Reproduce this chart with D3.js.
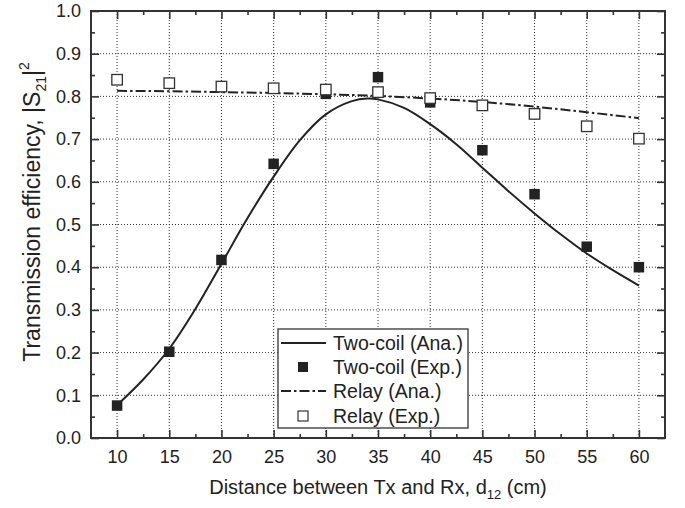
<!DOCTYPE html>
<html>
<head>
<title></title>
<style>
body{margin:0;background:#fff;}
svg text{font-family:Arial, "Liberation Sans", sans-serif;fill:#222;}
.grid line{stroke:#333;stroke-width:1;stroke-dasharray:1,2;}
.axis path{display:none;}
.axis line{stroke:#333;stroke-width:1.6;}
.frame{fill:none;stroke:#333;stroke-width:2;}
</style>
</head>
<body>
<svg width="685" height="508"></svg>
<script src="https://d3js.org/d3.v7.min.js"></script>
<script>
// measured points (cm)
var distance   = [10, 15, 20, 25, 30, 35, 40, 45, 50, 55, 60];
var twoCoilExp = [0.076, 0.202, 0.417, 0.642, 0.806, 0.845, 0.786, 0.674, 0.571, 0.448, 0.400];
var relayExp   = [0.839, 0.831, 0.823, 0.819, 0.816, 0.810, 0.796, 0.779, 0.759, 0.730, 0.701];
var relayAna   = [0.813, 0.812, 0.810, 0.808, 0.805, 0.801, 0.795, 0.787, 0.776, 0.763, 0.749];

// analytical two-coil curve
var twoCoilAnaX = [10, 12.5, 15, 17.5, 20, 22.5, 25, 27.5, 30, 32.5, 34, 35, 37.5, 40, 42.5, 45, 47.5, 50, 52.5, 55, 57.5, 60];
var twoCoilAnaY = [0.077, 0.137, 0.209, 0.302, 0.408, 0.515, 0.612, 0.697, 0.758, 0.789, 0.795, 0.793, 0.773, 0.735, 0.688, 0.633, 0.578, 0.526, 0.477, 0.432, 0.393, 0.357];

var xMajor = [10, 15, 20, 25, 30, 35, 40, 45, 50, 55, 60];
var xMinor = [12.5, 17.5, 22.5, 27.5, 32.5, 37.5, 42.5, 47.5, 52.5, 57.5];
var yMajor = [0, 0.1, 0.2, 0.3, 0.4, 0.5, 0.6, 0.7, 0.8, 0.9, 1.0];
var yMinor = [0.05, 0.15, 0.25, 0.35, 0.45, 0.55, 0.65, 0.75, 0.85, 0.95];

var legendNames = ["Two-coil (Ana.)", "Two-coil (Exp.)", "Relay (Ana.)", "Relay (Exp.)"];

var svg = d3.select("svg");
var pLeft = 91, pRight = 665, pTop = 11, pBottom = 438;

var x = d3.scaleLinear().domain([7.5, 62.5]).range([pLeft, pRight]);
var y = d3.scaleLinear().domain([0, 1]).range([pBottom, pTop]);

// dotted grid
var grid = svg.append("g").attr("class", "grid");
grid.selectAll(".gx").data(xMajor).enter().append("line")
    .attr("x1", function(d){ return x(d); }).attr("x2", function(d){ return x(d); })
    .attr("y1", pTop).attr("y2", pBottom);
grid.selectAll(".gy").data(yMajor.slice(1, -1)).enter().append("line")
    .attr("y1", function(d){ return y(d); }).attr("y2", function(d){ return y(d); })
    .attr("x1", pLeft).attr("x2", pRight);

// axes with inward ticks on all four sides
svg.append("g").attr("class", "axis").attr("transform", "translate(0," + pBottom + ")")
    .call(d3.axisBottom(x).tickValues(xMajor).tickSizeInner(-8).tickSizeOuter(0).tickPadding(12).tickFormat(d3.format("d")))
    .selectAll("text").style("font-size", "18px");
svg.append("g").attr("class", "axis").attr("transform", "translate(0," + pBottom + ")")
    .call(d3.axisBottom(x).tickValues(xMinor).tickSizeInner(-4).tickSizeOuter(0).tickFormat(""));
svg.append("g").attr("class", "axis").attr("transform", "translate(0," + pTop + ")")
    .call(d3.axisTop(x).tickValues(xMajor).tickSizeInner(-8).tickSizeOuter(0).tickFormat(""));
svg.append("g").attr("class", "axis").attr("transform", "translate(0," + pTop + ")")
    .call(d3.axisTop(x).tickValues(xMinor).tickSizeInner(-4).tickSizeOuter(0).tickFormat(""));

svg.append("g").attr("class", "axis").attr("transform", "translate(" + pLeft + ",0)")
    .call(d3.axisLeft(y).tickValues(yMajor).tickSizeInner(-8).tickSizeOuter(0).tickPadding(10).tickFormat(d3.format(".1f")))
    .selectAll("text").style("font-size", "18px");
svg.append("g").attr("class", "axis").attr("transform", "translate(" + pLeft + ",0)")
    .call(d3.axisLeft(y).tickValues(yMinor).tickSizeInner(-4).tickSizeOuter(0).tickFormat(""));
svg.append("g").attr("class", "axis").attr("transform", "translate(" + pRight + ",0)")
    .call(d3.axisRight(y).tickValues(yMajor).tickSizeInner(-8).tickSizeOuter(0).tickFormat(""));
svg.append("g").attr("class", "axis").attr("transform", "translate(" + pRight + ",0)")
    .call(d3.axisRight(y).tickValues(yMinor).tickSizeInner(-4).tickSizeOuter(0).tickFormat(""));

svg.append("rect").attr("class", "frame")
    .attr("x", pLeft).attr("y", pTop).attr("width", pRight - pLeft).attr("height", pBottom - pTop);

// lines
var anaPts = twoCoilAnaX.map(function(d, i){ return [d, twoCoilAnaY[i]]; });
var relayPts = distance.map(function(d, i){ return [d, relayAna[i]]; });
var line = d3.line().x(function(d){ return x(d[0]); }).y(function(d){ return y(d[1]); });

svg.append("path").datum(relayPts)
    .attr("d", line.curve(d3.curveMonotoneX))
    .attr("fill", "none").attr("stroke", "#222").attr("stroke-width", 2)
    .attr("stroke-dasharray", "10,3,2.5,3");
svg.append("path").datum(anaPts)
    .attr("d", line.curve(d3.curveCatmullRom))
    .attr("fill", "none").attr("stroke", "#222").attr("stroke-width", 2);

// markers
var sq = 10.5;
svg.append("g").selectAll("rect").data(distance).enter().append("rect")
    .attr("x", function(d){ return x(d) - sq / 2; })
    .attr("y", function(d, i){ return y(twoCoilExp[i]) - sq / 2; })
    .attr("width", sq).attr("height", sq)
    .attr("fill", "#222");
svg.append("g").selectAll("rect").data(distance).enter().append("rect")
    .attr("x", function(d){ return x(d) - sq / 2; })
    .attr("y", function(d, i){ return y(relayExp[i]) - sq / 2; })
    .attr("width", sq).attr("height", sq)
    .attr("fill", "#fff").attr("stroke", "#333").attr("stroke-width", 1.3);

// legend
var lg = svg.append("g");
lg.append("rect").attr("x", 278).attr("y", 329).attr("width", 190).attr("height", 99)
    .attr("fill", "#fff").attr("stroke", "#333").attr("stroke-width", 1.3);
var rowY = [343, 367, 391, 416];
lg.append("line").attr("x1", 281).attr("x2", 326).attr("y1", rowY[0]).attr("y2", rowY[0])
    .attr("stroke", "#222").attr("stroke-width", 2);
lg.append("rect").attr("x", 303 - 5).attr("y", rowY[1] - 5).attr("width", 10).attr("height", 10).attr("fill", "#222");
lg.append("line").attr("x1", 281).attr("x2", 326).attr("y1", rowY[2]).attr("y2", rowY[2])
    .attr("stroke", "#222").attr("stroke-width", 2).attr("stroke-dasharray", "10,3,2.5,3");
lg.append("rect").attr("x", 303 - 5).attr("y", rowY[3] - 5).attr("width", 10).attr("height", 10)
    .attr("fill", "#fff").attr("stroke", "#333").attr("stroke-width", 1.2);
lg.selectAll("text").data(legendNames).enter().append("text")
    .attr("x", 333).attr("y", function(d, i){ return rowY[i]; }).attr("dy", "0.36em")
    .style("font-size", "19.5px").text(function(d){ return d; });

// axis titles
var xt = svg.append("text").attr("x", (pLeft + pRight) / 2).attr("y", 494)
    .attr("text-anchor", "middle").style("font-size", "20px");
xt.append("tspan").text("Distance between Tx and Rx, d");
xt.append("tspan").attr("dy", 5).style("font-size", "13px").text("12");
xt.append("tspan").attr("dy", -5).text(" (cm)");

var yt = svg.append("text").attr("transform", "translate(40,212) rotate(-90)")
    .attr("text-anchor", "middle").style("font-size", "23px");
yt.append("tspan").text("Transmission efficiency, |S");
yt.append("tspan").attr("dy", 6).style("font-size", "14px").text("21");
yt.append("tspan").attr("dy", -6).text("|");
yt.append("tspan").attr("dy", -11).style("font-size", "14px").text("2");
</script>
</body>
</html>
